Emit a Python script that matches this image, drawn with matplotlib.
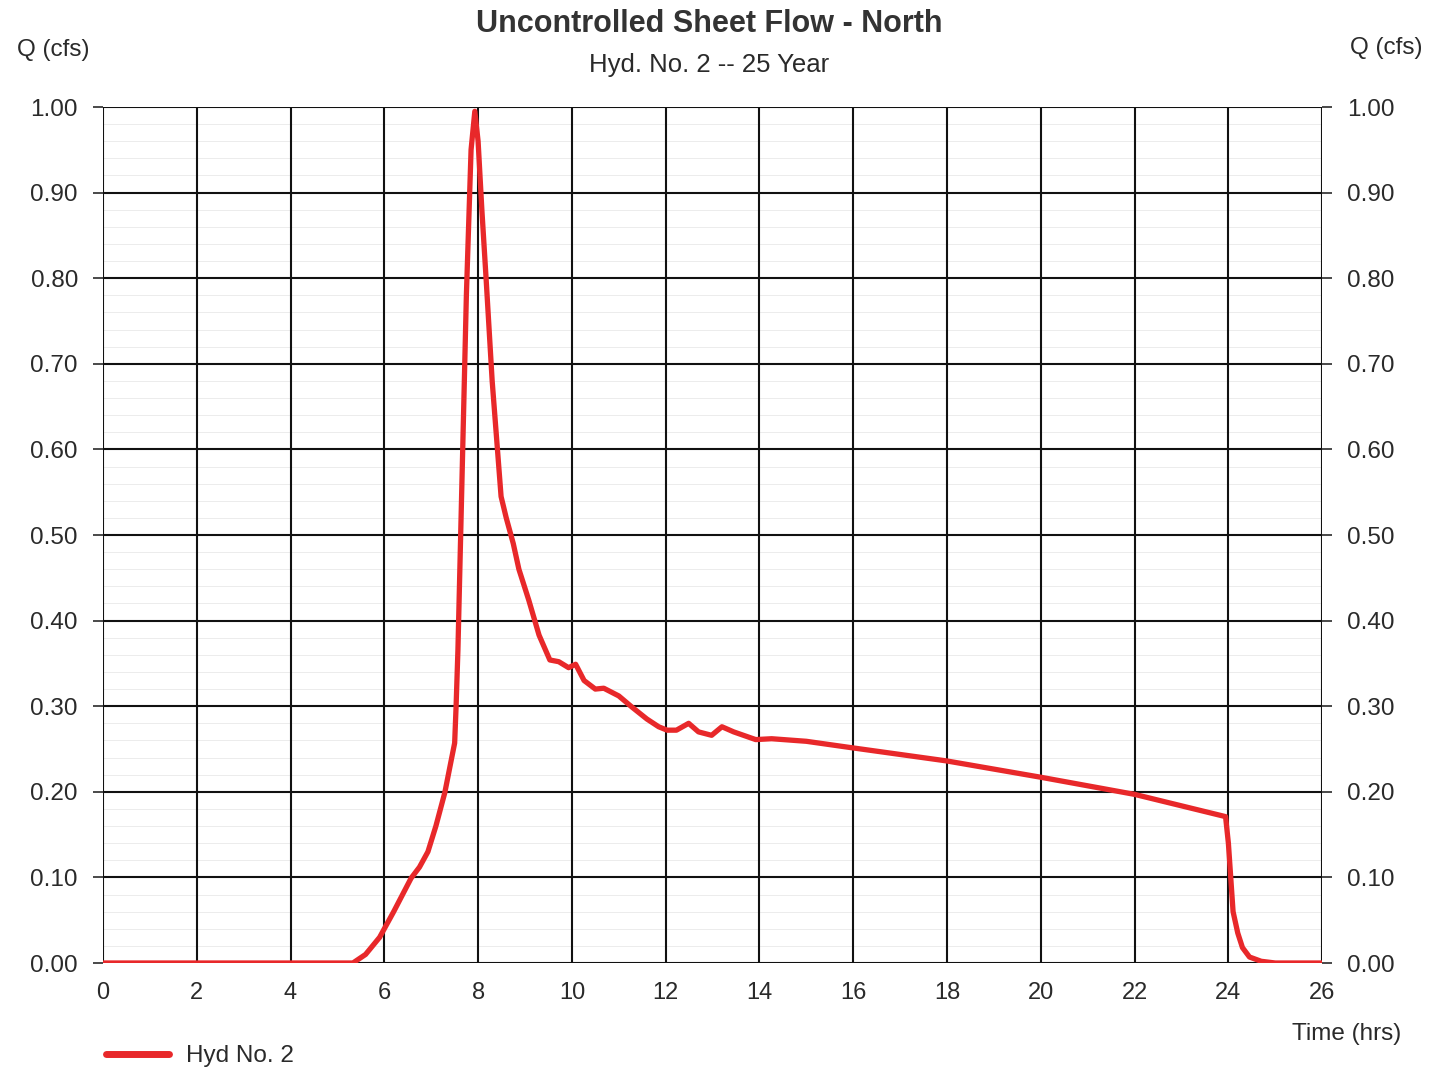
import matplotlib
matplotlib.use("Agg")
import matplotlib.pyplot as plt
import numpy as np

plt.rcParams['font.family'] = ['Liberation Sans', 'DejaVu Sans']

# Hydrograph ordinates: time (hrs) and discharge Q (cfs)
time_hrs = [0.0, 2.0, 4.0, 5.33, 5.6, 5.9, 6.2, 6.57, 6.75, 6.93, 7.1, 7.29, 7.42, 7.5,
            7.53, 7.57, 7.65, 7.75, 7.85, 7.93, 8.0, 8.08, 8.17, 8.3, 8.49, 8.6,
            8.75, 8.87, 9.08, 9.3, 9.53, 9.72, 9.93, 10.08, 10.26, 10.5, 10.68,
            11.0, 11.28, 11.6, 11.85, 12.03, 12.23, 12.49, 12.7, 12.98, 13.2,
            13.45, 13.92, 14.26, 15.0, 15.9, 18.0, 20.0, 22.0, 23.94, 24.0,
            24.05, 24.1, 24.2, 24.3, 24.45, 24.7, 25.0, 26.0]
flow_cfs = [0.0, 0.0, 0.0, 0.0, 0.010, 0.030, 0.060, 0.099, 0.112, 0.130, 0.160, 0.199,
            0.235, 0.257, 0.299, 0.366, 0.55, 0.78, 0.95, 0.995, 0.96, 0.88,
            0.80, 0.68, 0.545, 0.52, 0.49, 0.46, 0.424, 0.383, 0.354, 0.352,
            0.345, 0.349, 0.330, 0.320, 0.321, 0.312, 0.299, 0.285, 0.276,
            0.272, 0.272, 0.280, 0.270, 0.266, 0.276, 0.270, 0.261, 0.262,
            0.259, 0.252, 0.236, 0.217, 0.197, 0.171, 0.140, 0.100, 0.060,
            0.035, 0.018, 0.007, 0.002, 0.0, 0.0]

x_ticks = list(range(0, 27, 2))
y_ticks = [0.0, 0.1, 0.2, 0.3, 0.4, 0.5, 0.6, 0.7, 0.8, 0.9, 1.0]
y_tick_labels = [f"{v:.2f}" for v in y_ticks]

fig = plt.figure(figsize=(14.42, 10.70), dpi=100)
ax = fig.add_axes([0.0714, 0.1, 0.8455, 0.8])

text_col = '#2a2a2a'

# faint minor horizontal grid every 0.02
for v in np.arange(0.02, 1.0, 0.02):
    if abs(v * 10 - round(v * 10)) > 1e-6:
        ax.axhline(v, color='#ececec', lw=0.7, zorder=1)
for v in y_ticks:
    ax.axhline(v, color='#111111', lw=1.5, zorder=2)
for t in x_ticks:
    ax.axvline(t, color='#111111', lw=1.5, zorder=2)

line, = ax.plot(time_hrs, flow_cfs, color='#e8282a', lw=3.8, zorder=5,
                solid_capstyle='round', solid_joinstyle='round', label='Hyd No. 2')

ax.set_xlim(0, 26)
ax.set_ylim(0, 1.0)
ax.set_xticks(x_ticks)
ax.set_xticklabels([str(t) for t in x_ticks])
ax.set_yticks(y_ticks)
ax.set_yticklabels(y_tick_labels)
ax.tick_params(axis='x', length=0, pad=14, labelsize=17, colors=text_col)
ax.tick_params(axis='y', length=7, width=1.2, pad=11, labelsize=17.5, colors=text_col,
               left=True, right=True, labelleft=True, labelright=True)
for s in ax.spines.values():
    s.set_visible(False)

fig.text(0.492, 0.978, 'Uncontrolled Sheet Flow - North', ha='center', va='center',
         fontsize=22, fontweight='bold', color='#333333')
fig.text(0.492, 0.939, 'Hyd. No. 2 -- 25 Year', ha='center', va='center',
         fontsize=18.5, color=text_col)
fig.text(0.037, 0.953, 'Q (cfs)', ha='center', va='center', fontsize=17.5, color=text_col)
fig.text(0.961, 0.955, 'Q (cfs)', ha='center', va='center', fontsize=17.5, color=text_col)
fig.text(0.934, 0.034, 'Time (hrs)', ha='center', va='center', fontsize=17.5, color=text_col)

leg = fig.legend(handles=[line], loc='center left', bbox_to_anchor=(0.058, 0.013),
                 frameon=False, fontsize=17.5, handlelength=2.6, handletextpad=0.7,
                 labelcolor=text_col)
for h in leg.legend_handles:
    h.set_linewidth(5)

fig.savefig('out.png', dpi=100, facecolor='white')
